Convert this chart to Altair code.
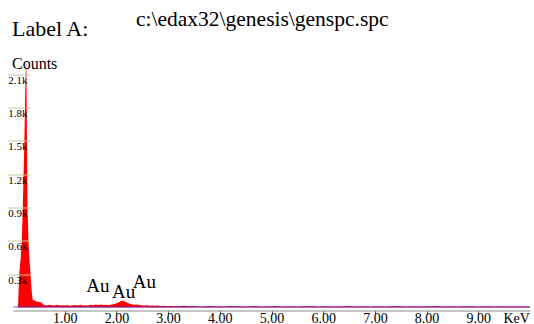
import altair as alt
import pandas as pd

# Spectrum (energy in keV, counts)
peak_kev = [0.00, 0.09, 0.10, 0.12, 0.15, 0.17, 0.19, 0.22, 0.24, 0.25, 0.26, 0.27,
            0.28, 0.30, 0.32, 0.34, 0.36, 0.385, 0.40, 0.45, 0.50, 0.55]
peak_cnt = [0, 0, 40, 300, 450, 600, 900, 1500, 2000, 2230, 2100, 1500,
            900, 600, 420, 300, 150, 60, 70, 55, 50, 45]

low_kev = [0.60, 0.65, 0.70, 0.75, 0.80, 0.85, 0.90, 0.95, 1.00, 1.05, 1.10, 1.15,
           1.20, 1.25, 1.30, 1.35, 1.40, 1.45, 1.50, 1.55, 1.60, 1.65, 1.70, 1.75,
           1.80, 1.85, 1.90, 1.95, 2.00, 2.05, 2.10, 2.15, 2.20, 2.25, 2.30, 2.35,
           2.40, 2.45, 2.50, 2.55, 2.60, 2.65, 2.70, 2.75, 2.80, 2.85, 2.90, 2.95, 3.00]
low_cnt = [22, 18, 25, 20, 17, 24, 19, 21, 18, 23, 16, 20,
           22, 17, 25, 19, 21, 18, 24, 20, 26, 22, 28, 23,
           25, 21, 27, 30, 38, 48, 60, 58, 45, 35, 28, 24,
           27, 22, 20, 18, 21, 16, 18, 15, 17, 14, 16, 13, 14]

high_kev = [3.1, 3.2, 3.3, 3.4, 3.5, 3.6, 3.7, 3.8, 3.9, 4.0, 4.1, 4.2, 4.3, 4.4,
            4.5, 4.6, 4.7, 4.8, 4.9, 5.0, 5.1, 5.2, 5.3, 5.4, 5.5, 5.6, 5.7, 5.8,
            5.9, 6.0, 6.1, 6.2, 6.3, 6.4, 6.5, 6.6, 6.7, 6.8, 6.9, 7.0, 7.1, 7.2,
            7.3, 7.4, 7.5, 7.6, 7.7, 7.8, 7.9, 8.0, 8.1, 8.2, 8.3, 8.4, 8.5, 8.6,
            8.7, 8.8, 8.9, 9.0, 9.1, 9.2, 9.3, 9.4, 9.5, 9.6, 9.7, 9.8, 9.9, 10.0]
high_cnt = [14, 12, 15, 11, 13, 10, 12, 14, 11, 12, 10, 13, 11, 12,
            10, 11, 13, 10, 12, 11, 13, 10, 12, 11, 10, 12, 11, 13,
            10, 12, 11, 10, 12, 11, 13, 10, 11, 12, 10, 11, 12, 10,
            11, 13, 12, 10, 11, 12, 10, 11, 12, 13, 10, 11, 12, 10,
            11, 12, 11, 10, 12, 11, 10, 11, 12, 10, 11, 10, 11, 10]

# Background line
bg_kev = [0.0, 10.0]
bg_cnt = [5, 5]

# Peak labels
lbl_text = ["Au", "Au", "Au"]
lbl_kev = [1.64, 2.14, 2.54]
lbl_cnt = [139, 88, 175]

x_ticks = [1, 2, 3, 4, 5, 6, 7, 8, 9]
y_ticks = [300, 600, 900, 1200, 1500, 1800, 2100]

spec = pd.DataFrame({"kev": peak_kev + low_kev + high_kev,
                     "counts": peak_cnt + low_cnt + high_cnt})
bg = pd.DataFrame({"kev": bg_kev, "counts": bg_cnt})
lbl = pd.DataFrame({"text": lbl_text, "kev": lbl_kev, "counts": lbl_cnt})

SERIF = "Liberation Serif"

xscale = alt.Scale(domain=[0, 10], nice=False, zero=False)
yscale = alt.Scale(domain=[0, 2250], nice=False)

xaxis = alt.Axis(values=x_ticks, format=".2f", title="KeV", grid=False,
                 domainColor="#8c8c8c", domainWidth=1, offset=3,
                 tickColor="#555555", tickSize=4, labelPadding=-3,
                 labelBaseline="top", labelFont=SERIF, labelFontSize=14,
                 labelColor="#000000", labelFlush=False,
                 titleFont=SERIF, titleFontSize=14, titleFontWeight="normal",
                 titleColor="#000000", titleX=490, titleY=1,
                 titleAlign="left", titleBaseline="top", titleAnchor="start",
                 zindex=1)
yaxis = alt.Axis(values=y_ticks, title=None, grid=False, domain=False,
                 labelExpr="format(datum.value/1000, '.1f') + 'k'",
                 offset=-17, tickSize=23, tickColor="#c5c59b", tickWidth=1,
                 labelPadding=-20, labelBaseline="top", labelAlign="right",
                 labelFont=SERIF, labelFontSize=11, labelColor="#000000",
                 zindex=1)

area = alt.Chart(spec).mark_area(color="#ff0000", interpolate="linear").encode(
    x=alt.X("kev:Q", scale=xscale, axis=xaxis),
    y=alt.Y("counts:Q", scale=yscale, axis=yaxis),
)

bgline = alt.Chart(bg).mark_line(color="#3333ff", strokeWidth=1, opacity=0.7).encode(
    x=alt.X("kev:Q", scale=xscale),
    y=alt.Y("counts:Q", scale=yscale),
)

labels = alt.Chart(lbl).mark_text(font=SERIF, fontSize=19, color="#000000",
                                  align="center", baseline="alphabetic").encode(
    x=alt.X("kev:Q", scale=xscale),
    y=alt.Y("counts:Q", scale=yscale),
    text="text:N",
)

def note(txt, x, y, size):
    return alt.Chart(pd.DataFrame({"t": [txt]})).mark_text(
        font=SERIF, fontSize=size, color="#000000", align="left",
        baseline="alphabetic").encode(x=alt.value(x), y=alt.value(y), text="t:N")

title1 = note("Label A:", -1, -21.5, 22)
title2 = note("c:\\edax32\\genesis\\genspc.spc", 123, -32, 21.5)
counts = note("Counts", -1, 11, 16)

chart = alt.layer(area, bgline, labels, title1, title2, counts).properties(
    width=517, height=250,
    autosize=alt.AutoSizeParams(type="none"),
    padding={"left": 13, "top": 57.5, "right": 4, "bottom": 16.5},
    background="#ffffff",
).configure_view(stroke=None)

chart.save("out.html", embed_options={"renderer": "svg", "actions": False})
